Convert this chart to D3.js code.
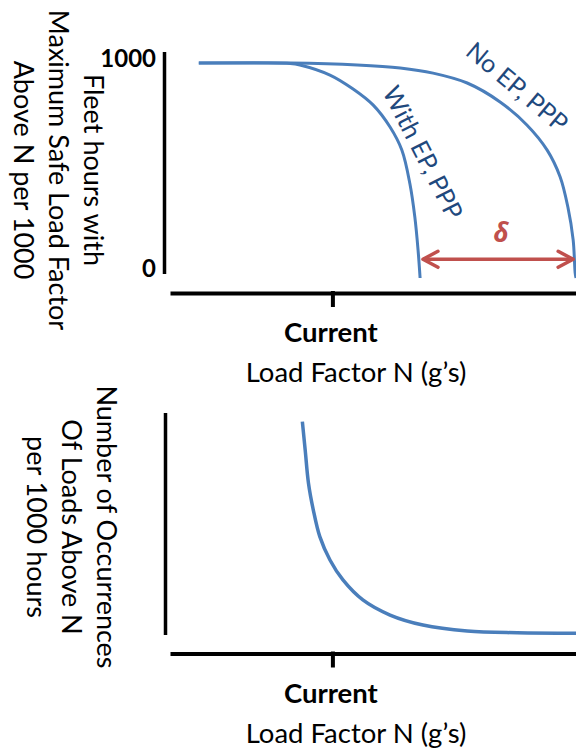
<!DOCTYPE html>
<html>
<head>
<meta charset="utf-8">
<script src="https://cdn.jsdelivr.net/npm/d3@7"></script>
<style>
  html, body { margin: 0; padding: 0; background: #fff; }
  svg { display: block; font-family: Lato, "Open Sans", sans-serif; }
</style>
</head>
<body>
<svg id="chart" width="576" height="749"></svg>
<script>
// Load factor N, in relative units across the axis (0 = left end, 100 = right end)
const currentLoad = 40;
const xTickLabels = ["Current"];
const xAxisTitle = "Load Factor N (g’s)";

// Upper panel: fleet hours with maximum safe load factor above N, per 1000
const hoursTicks = [0, 1000];
const seriesNames = ["No EP, PPP", "With EP, PPP"];
const noEpLoad   = [7.1, 29.6, 46.1, 56.7, 64.8, 73.2, 81.3, 87.9, 92.9, 96.1, 98.0, 99.3, 99.8, 100];
const noEpHours  = [1000, 1000, 991, 977, 953, 907, 819, 712, 595, 470, 330, 177, 23, 0];
const withEpLoad  = [7.1, 20, 29.6, 32.0, 39.4, 45.1, 50.0, 54.2, 57.1, 59.1, 60.3, 61.1, 61.6];
const withEpHours = [1000, 1000, 998, 991, 944, 879, 805, 702, 595, 437, 284, 130, 0];
// Margin gained between the two curves
const deltaFrom = 62.3, deltaTo = 99.3, deltaHours = 87;
const deltaLabel = "δ";
const upperTitle = ["Fleet hours with", "Maximum Safe Load Factor", "Above N per 1000"];

// Lower panel: number of occurrences of loads above N per 1000 hours (relative)
const exceedLoad  = [32.6, 33.3, 34.1, 35.3, 36.9, 39.4, 42.6, 47.5, 54.2, 62.3, 73.2, 85.5, 100];
const exceedCount = [96.1, 83.3, 68.5, 56.3, 44.3, 33.8, 24.8, 15.8, 9.0, 4.5, 1.8, 1.0, 0.8];
const lowerTitle = ["Number of Occurrences", "Of Loads Above N", "per 1000 hours"];

const curveColor = "#4a7ebb";
const labelColor = "#1f497d";
const deltaColor = "#c0504d";

const svg = d3.select("#chart");

const x = d3.scaleLinear().domain([0, 100]).range([170, 576]);
const yTop = d3.scaleLinear().domain([0, 1000]).range([278, 63]);
const yBot = d3.scaleLinear().domain([0, 100]).range([635, 413]);

function drawXAxis(yPos) {
  const axis = d3.axisBottom(x)
    .tickValues([currentLoad])
    .tickFormat((d, i) => xTickLabels[i])
    .tickSizeInner(14)
    .tickSizeOuter(0);
  const g = svg.append("g")
    .attr("transform", `translate(0,${yPos})`)
    .call(axis);
  g.select(".domain").attr("stroke", "#000").attr("stroke-width", 4);
  g.selectAll(".tick line").attr("stroke", "#000").attr("stroke-width", 4).attr("y1", -2);
  g.selectAll(".tick text")
    .attr("y", 49).attr("dy", null).attr("dx", -2)
    .attr("fill", "#000")
    .attr("font-family", "Lato, sans-serif")
    .attr("font-weight", "bold")
    .attr("font-size", 27.5);
  svg.append("text")
    .attr("x", 356).attr("y", yPos + 89)
    .attr("text-anchor", "middle")
    .attr("font-size", 27.5)
    .text(xAxisTitle);
}

function drawYTitle(lines, bx, cy) {
  const g = svg.append("g").attr("transform", `translate(${bx},${cy}) rotate(90)`);
  g.selectAll("text").data(lines).join("text")
    .attr("x", 0).attr("y", (d, i) => i * 35)
    .attr("text-anchor", "middle")
    .attr("font-size", 27)
    .text(d => d);
}

// ---------- Upper panel ----------
svg.append("line")
  .attr("x1", 164.5).attr("x2", 164.5)
  .attr("y1", yTop(1000) - 11).attr("y2", yTop(0) - 4)
  .attr("stroke", "#000").attr("stroke-width", 3.5);

svg.selectAll(".hours-tick").data(hoursTicks).join("text")
  .attr("class", "hours-tick")
  .attr("x", 156)
  .attr("y", d => yTop(d) + (d === 0 ? -1 : 4))
  .attr("text-anchor", "end")
  .attr("font-weight", "bold")
  .attr("font-size", 24)
  .text(d => d);

drawXAxis(293);
drawYTitle(upperTitle, 84, 170);

const lineTop = d3.line()
  .x(d => x(d[0])).y(d => yTop(d[1]))
  .curve(d3.curveCatmullRom.alpha(0.5));

const upperSeries = [
  d3.zip(noEpLoad, noEpHours),
  d3.zip(withEpLoad, withEpHours)
];
svg.selectAll(".fleet").data(upperSeries).join("path")
  .attr("class", "fleet")
  .attr("d", lineTop)
  .attr("fill", "none")
  .attr("stroke", curveColor)
  .attr("stroke-width", 3);

// curve labels, set along each curve
const labelPlacement = [
  { cx: 518, cy: 86, angle: 40 },
  { cx: 424, cy: 152, angle: 63 }
];
svg.selectAll(".series-label").data(seriesNames).join("text")
  .attr("class", "series-label")
  .attr("transform", (d, i) => `translate(${labelPlacement[i].cx},${labelPlacement[i].cy}) rotate(${labelPlacement[i].angle})`)
  .attr("text-anchor", "middle")
  .attr("dominant-baseline", "central")
  .attr("fill", labelColor)
  .attr("font-size", 25)
  .text(d => d);

// double-headed arrow showing the gain in load factor
const defs = svg.append("defs");
defs.append("marker")
  .attr("id", "chev")
  .attr("viewBox", "-20 -12 24 24")
  .attr("markerWidth", 24).attr("markerHeight", 24)
  .attr("markerUnits", "userSpaceOnUse")
  .attr("refX", 0).attr("refY", 0)
  .attr("orient", "auto-start-reverse")
  .append("path")
  .attr("d", "M-15,-8 L0,0 L-15,8")
  .attr("fill", "none")
  .attr("stroke", deltaColor)
  .attr("stroke-width", 3.5)
  .attr("stroke-linecap", "round")
  .attr("stroke-linejoin", "round");

svg.append("line")
  .attr("x1", x(deltaFrom)).attr("x2", x(deltaTo))
  .attr("y1", yTop(deltaHours)).attr("y2", yTop(deltaHours))
  .attr("stroke", deltaColor)
  .attr("stroke-width", 3.5)
  .attr("marker-start", "url(#chev)")
  .attr("marker-end", "url(#chev)");

svg.append("text")
  .attr("x", (x(deltaFrom) + x(deltaTo)) / 2 + 3)
  .attr("y", yTop(deltaHours) - 17)
  .attr("text-anchor", "middle")
  .attr("font-family", "'Open Sans', 'DejaVu Sans', sans-serif")
  .attr("font-style", "italic")
  .attr("font-weight", "bold")
  .attr("font-size", 26)
  .attr("fill", deltaColor)
  .text(deltaLabel);

// ---------- Lower panel ----------
svg.append("line")
  .attr("x1", 165.5).attr("x2", 165.5)
  .attr("y1", yBot(100)).attr("y2", yBot(0))
  .attr("stroke", "#000").attr("stroke-width", 3.5);

drawXAxis(653.5);
drawYTitle(lowerTitle, 97, 527);

const lineBot = d3.line()
  .x(d => x(d[0])).y(d => yBot(d[1]))
  .curve(d3.curveCatmullRom.alpha(0.5));

svg.append("path")
  .datum(d3.zip(exceedLoad, exceedCount))
  .attr("d", lineBot)
  .attr("fill", "none")
  .attr("stroke", curveColor)
  .attr("stroke-width", 3.5);
</script>
</body>
</html>
